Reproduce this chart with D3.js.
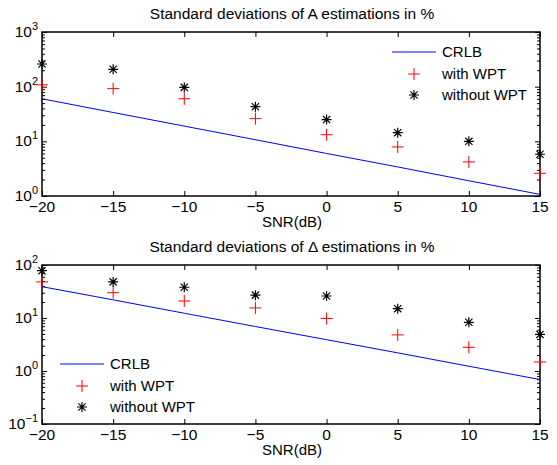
<!DOCTYPE html>
<html>
<head>
<meta charset="utf-8">
<script src="https://cdn.jsdelivr.net/npm/d3@7"></script>
<style>
  body { margin: 0; background: #fff; }
  text { font-family: Arial, 'Liberation Sans', sans-serif; fill: #000; }
</style>
</head>
<body>
<div class="container"></div>
<script>
var snr = [-20, -15, -10, -5, 0, 5, 10, 15];
var xTicks = [-20, -15, -10, -5, 0, 5, 10, 15];

// top panel: A estimations
var crlbA = [60, 33.7, 19, 10.7, 6, 3.4, 1.9, 1.07];
var withA = [108, 92, 60, 26, 13.2, 7.9, 4.2, 2.6];
var withoutA = [260, 208, 97, 43, 25, 14.4, 10, 5.8];
var yTicksA = [0, 1, 2, 3];

// bottom panel: Delta estimations
var crlbD = [39, 22, 12.3, 6.9, 3.9, 2.2, 1.23, 0.69];
var withD = [48, 30, 21, 15.5, 9.8, 4.8, 2.8, 1.48];
var withoutD = [78, 48, 38, 27, 26, 15, 8.3, 4.9];
var yTicksD = [-1, 0, 1, 2];

var w = 557, h = 465;

var svg = d3.select('.container')
  .append('svg')
  .attr('width', w)
  .attr('height', h);

var panels = [
  {
    title: 'Standard deviations of A estimations in %',
    top: 32, bottom: 196, exps: yTicksA,
    crlb: crlbA, withWpt: withA, withoutWpt: withoutA,
    legend: {x: 392, y: 52}
  },
  {
    title: 'Standard deviations of \u0394 estimations in %',
    top: 265, bottom: 424, exps: yTicksD,
    crlb: crlbD, withWpt: withD, withoutWpt: withoutD,
    legend: {x: 60, y: 364}
  }
];

var left = 42, right = 540;

panels.forEach(function(p) {
  drawPanel(p);
});

function drawPanel(p) {
  var xScale = d3.scaleLinear()
    .domain([-20, 15])
    .range([left, right]);

  var yScale = d3.scaleLog()
    .domain([Math.pow(10, p.exps[0]), Math.pow(10, p.exps[p.exps.length - 1])])
    .range([p.bottom, p.top]);

  var g = svg.append('g');

  /* ===== MINOR + MAJOR TICKS =====*/
  var minor = [];
  for (var e = p.exps[0]; e < p.exps[p.exps.length - 1]; e++) {
    for (var m = 2; m < 10; m++) minor.push(m * Math.pow(10, e));
  }
  var majors = p.exps.map(function(e) { return Math.pow(10, e); });

  var yLeftMinor = d3.axisRight(yScale).tickValues(minor).tickSize(3).tickFormat('');
  var yLeftMajor = d3.axisRight(yScale).tickValues(majors).tickSize(5).tickFormat('');
  var yRightMinor = d3.axisLeft(yScale).tickValues(minor).tickSize(3).tickFormat('');
  var yRightMajor = d3.axisLeft(yScale).tickValues(majors).tickSize(5).tickFormat('');
  var xBottom = d3.axisTop(xScale).tickValues(xTicks).tickSize(5).tickFormat('');
  var xTop = d3.axisBottom(xScale).tickValues(xTicks).tickSize(5).tickFormat('');

  [
    [yLeftMinor, left, 0], [yLeftMajor, left, 0],
    [yRightMinor, right, 0], [yRightMajor, right, 0],
    [xBottom, 0, p.bottom], [xTop, 0, p.top]
  ].forEach(function(a) {
    var ax = g.append('g')
      .attr('transform', 'translate(' + a[1] + ',' + a[2] + ')')
      .call(a[0]);
    ax.select('.domain').remove();
    ax.selectAll('line').attr('stroke', '#000').attr('stroke-width', 1);
  });

  /* ===== BOX =====*/
  g.append('rect')
    .attr('x', left)
    .attr('y', p.top)
    .attr('width', right - left)
    .attr('height', p.bottom - p.top)
    .attr('fill', 'none')
    .attr('stroke', '#000')
    .attr('stroke-width', 1.5);

  /* ===== TICK LABELS =====*/
  g.selectAll('.xlab')
    .data(xTicks)
    .enter()
    .append('text')
    .attr('x', function(d) { return xScale(d); })
    .attr('y', p.bottom + 16)
    .attr('text-anchor', 'middle')
    .attr('font-size', '15.5px')
    .text(function(d) { return d < 0 ? '\u2212' + Math.abs(d) : d; });

  var ylab = g.selectAll('.ylab')
    .data(p.exps)
    .enter()
    .append('text')
    .attr('x', 38)
    .attr('y', function(d) { return yScale(Math.pow(10, d)) + 5; })
    .attr('text-anchor', 'end')
    .attr('font-size', '15.5px');
  ylab.append('tspan').text('10');
  ylab.append('tspan')
    .attr('dy', -7)
    .attr('font-size', '11px')
    .text(function(d) { return d < 0 ? '\u2212' + Math.abs(d) : d; });

  /* ===== TITLE + X LABEL =====*/
  g.append('text')
    .attr('x', 292)
    .attr('y', p.top - 13)
    .attr('text-anchor', 'middle')
    .attr('font-size', '15.5px')
    .text(p.title);

  g.append('text')
    .attr('x', 292)
    .attr('y', p.bottom + 31)
    .attr('text-anchor', 'middle')
    .attr('font-size', '15px')
    .text('SNR(dB)');

  /* ===== CRLB LINE =====*/
  var line = d3.line()
    .x(function(d, i) { return xScale(snr[i]); })
    .y(function(d) { return yScale(d); });

  g.append('path')
    .datum(p.crlb)
    .attr('d', line)
    .attr('fill', 'none')
    .attr('stroke', '#0000ff')
    .attr('stroke-width', 1);

  /* ===== MARKERS =====*/
  g.selectAll('.plus')
    .data(p.withWpt)
    .enter()
    .append('path')
    .attr('transform', function(d, i) {
      return 'translate(' + xScale(snr[i]) + ',' + yScale(d) + ')';
    })
    .attr('d', plusPath(6))
    .attr('stroke', '#ff0000')
    .attr('stroke-width', 1)
    .attr('fill', 'none');

  g.selectAll('.star')
    .data(p.withoutWpt)
    .enter()
    .append('path')
    .attr('transform', function(d, i) {
      return 'translate(' + xScale(snr[i]) + ',' + yScale(d) + ')';
    })
    .attr('d', starPath(5))
    .attr('stroke', '#000')
    .attr('stroke-width', 1.2)
    .attr('fill', 'none');

  /* ===== LEGEND =====*/
  var lg = g.append('g')
    .attr('transform', 'translate(' + p.legend.x + ',' + p.legend.y + ')');
  var names = ['CRLB', 'with WPT', 'without WPT'];
  lg.append('line')
    .attr('x1', 0).attr('x2', 44)
    .attr('y1', 0).attr('y2', 0)
    .attr('stroke', '#0000ff');
  lg.append('path')
    .attr('transform', 'translate(22,22)')
    .attr('d', plusPath(6))
    .attr('stroke', '#ff0000')
    .attr('fill', 'none');
  lg.append('path')
    .attr('transform', 'translate(22,43)')
    .attr('d', starPath(5))
    .attr('stroke', '#000')
    .attr('stroke-width', 1.2)
    .attr('fill', 'none');
  lg.selectAll('.lt')
    .data(names)
    .enter()
    .append('text')
    .attr('x', 50)
    .attr('y', function(d, i) { return i * 21.5 + 5; })
    .attr('font-size', '15px')
    .text(function(d) { return d; });
}

function plusPath(r) {
  return 'M' + (-r) + ',0H' + r + 'M0,' + (-r) + 'V' + r;
}

function starPath(r) {
  var k = r * 0.72;
  return plusPath(r) + 'M' + (-k) + ',' + (-k) + 'L' + k + ',' + k +
    'M' + (-k) + ',' + k + 'L' + k + ',' + (-k);
}
</script>
</body>
</html>
